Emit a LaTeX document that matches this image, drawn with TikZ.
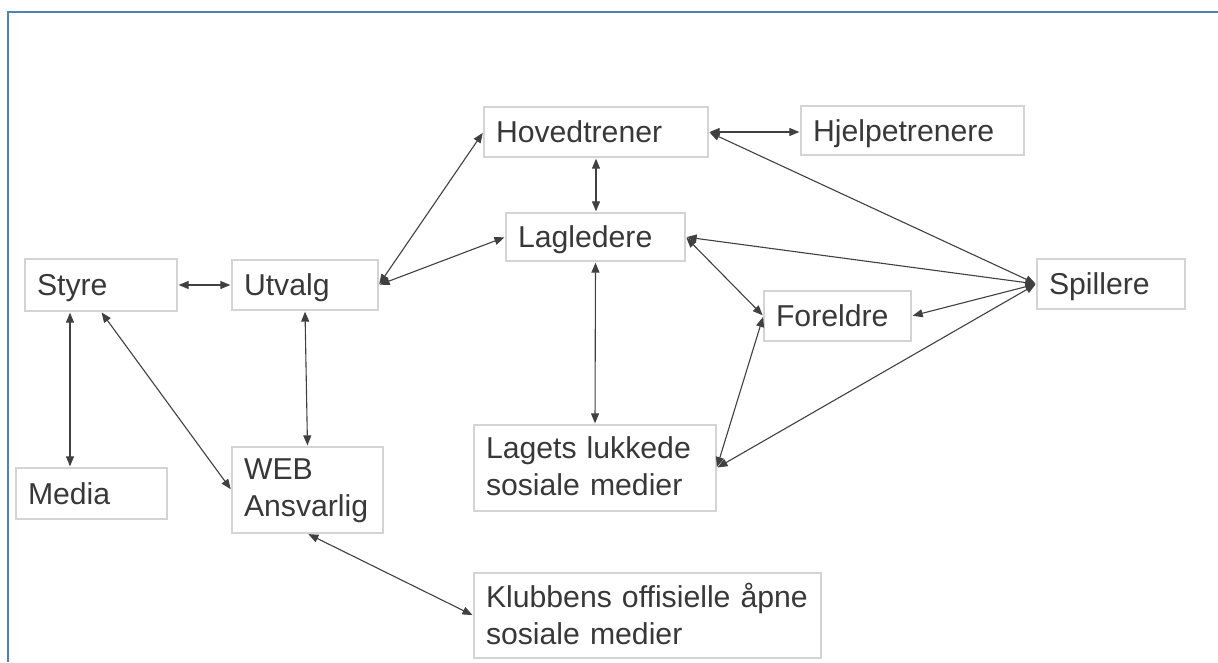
\documentclass[tikz,border=0pt]{standalone}
\usepackage{fontspec}
\setmainfont{Liberation Sans}
\usetikzlibrary{arrows.meta}
\definecolor{txtgray}{HTML}{383838}
\definecolor{linegray}{HTML}{404040}
\definecolor{boxgray}{HTML}{D4D4D4}
\definecolor{framblue}{HTML}{4F81BD}
\begin{document}
\begin{tikzpicture}[x=1pt, y=-1pt,
		box/.style = {draw=boxgray, line width=1.3pt, inner xsep=12pt, inner ysep=0pt, align=left,
			text=txtgray, font=\fontsize{30.2}{37}\selectfont, text depth=0pt},
		two/.style = {text depth=41pt},
		link/.style = {{Triangle[length=10pt,width=8pt]}-{Triangle[length=10pt,width=8pt]},
			draw=linegray, line width=1.1pt, shorten >=1pt, shorten <=1pt}]
		\useasboundingbox (0,0) rectangle (1218,662);
		\draw[framblue, line width=2.6pt] (8,662) -- (8,12) -- (1218,12);

		\node[box, text width=128pt, minimum height=52pt] (styre) at (101,285) {Styre};
		\node[box, text width=122pt, minimum height=50pt] (utvalg) at (305,285) {Utvalg};
		\node[box, text width=127pt, minimum height=51pt] (media) at (91.5,493.5) {Media};
		\node[box, two, text width=127pt, minimum height=86pt] (web) at (307.5,490) {WEB\\Ansvarlig};
		\node[box, text width=200pt, minimum height=50pt] (hoved) at (596,132) {Hovedtrener};
		\node[box, text width=199pt, minimum height=49pt] (hjelpe) at (912.5,130.5) {Hjelpetrenere};
		\node[box, text width=155pt, minimum height=48pt] (lagl) at (595.5,237) {Lagledere};
		\node[box, text width=124pt, minimum height=50pt] (spillere) at (1111,284) {Spillere};
		\node[box, text width=123pt, minimum height=50pt] (foreldre) at (837.5,316) {Foreldre};
		\node[box, two, text width=218pt, minimum height=86pt] (lagets) at (595,468) {Lagets lukkede\\sosiale medier};
		\node[box, two, text width=323pt, minimum height=85pt] (klubb) at (647.5,615.5) {Klubbens offisielle åpne\\sosiale medier};

		\draw[link] (styre.east) -- (utvalg.west);
		\draw[link] ([xshift=-31pt]styre.south) -- ([xshift=-21.5pt]media.north);
		\draw[link] (styre.south) -- (web.west);
		\draw[link] (utvalg.south) -- (web.north);
		\draw[link] (utvalg.east) -- (hoved.west);
		\draw[link] (utvalg.east) -- (lagl.west);
		\draw[link] (hoved.south) -- (hoved.south |- lagl.north);
		\draw[link] (hoved.east) -- (hoved.east -| hjelpe.west);
		\draw[link] (hoved.east) -- (spillere.west);
		\draw[link] (lagl.east) -- (spillere.west);
		\draw[link] (lagl.east) -- (foreldre.west);
		\draw[link] (spillere.west) -- (foreldre.east);
		\draw[link] (lagl.south) -- (lagets.north);
		\draw[link] (foreldre.west) -- (lagets.east);
		\draw[link] (spillere.west) -- (lagets.east);
		\draw[link] (web.south) -- (klubb.west);
	\end{tikzpicture}
\end{document}
